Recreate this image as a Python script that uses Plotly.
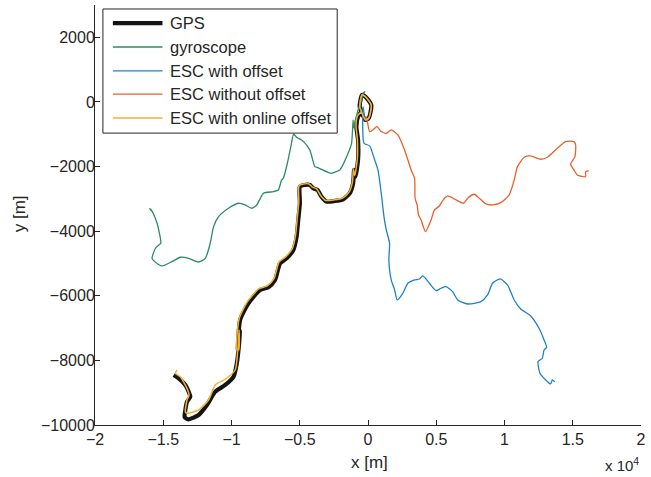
import plotly.graph_objects as go

# x values in units of 10^4 m, y values in m
gps_x = [-1.423, -1.387, -1.338, -1.314, -1.302, -1.326, -1.338, -1.343, -1.314, -1.241, -1.180, -1.119,
         -1.046, -0.985, -0.961, -0.944, -0.937, -0.954, -0.937, -0.876, -0.791, -0.730, -0.681, -0.644,
         -0.596, -0.547, -0.523, -0.511, -0.499, -0.499, -0.467, -0.426, -0.401, -0.370, -0.341, -0.304,
         -0.243, -0.182, -0.134, -0.109, -0.102, -0.092, -0.073, -0.073, -0.085, -0.073, -0.049, -0.061,
         -0.044, -0.020, 0.024, 0.005, -0.020, -0.049]
gps_y = [-8452, -8554, -8761, -8968, -9123, -9278, -9535, -9761, -9823, -9690, -9381, -8968,
         -8761, -8505, -8092, -7473, -7059, -7678, -6749, -6233, -5820, -5737, -5511, -4995,
         -4840, -4582, -4169, -3654, -3136, -2621, -2570, -2570, -2672, -2724, -2930, -3084,
         -3065, -3013, -2827, -2517, -2105, -2312, -1796, -1176, -764, -454, -299, -145,
         217, 165, -93, -506, -557, -299]

online_x = [-1.399, -1.411, -1.375, -1.326, -1.311, -1.326, -1.338, -1.326, -1.241, -1.168, -1.119,
            -1.046, -0.973, -0.954, -0.944, -0.947, -0.962, -0.944, -0.884, -0.799, -0.738, -0.689,
            -0.652, -0.604, -0.555, -0.531, -0.519, -0.507, -0.505, -0.473, -0.432, -0.407, -0.376,
            -0.347, -0.310, -0.247, -0.186, -0.139, -0.114, -0.107, -0.097, -0.078, -0.078, -0.088,
            -0.076, -0.049, -0.061, -0.044, -0.020, 0.024, 0.005, -0.020, -0.049]
online_y = [-8297, -8400, -8505, -8865, -9072, -9226, -9587, -9638, -9535, -9226, -8761,
            -8585, -8297, -7678, -7059, -7678, -7678, -6710, -6190, -5780, -5695, -5470,
            -4955, -4800, -4540, -4130, -3615, -3100, -2590, -2540, -2540, -2640, -2690,
            -2895, -3050, -3030, -2975, -2790, -2480, -2070, -2280, -1760, -1140, -730,
            -420, -299, -145, 217, 165, -93, -506, -557, -299]

gyro_x = [-1.601, -1.582, -1.590, -1.575, -1.545, -1.528, -1.518, -1.538, -1.557, -1.582, -1.562,
          -1.509, -1.436, -1.375, -1.314, -1.241, -1.192, -1.156, -1.131, -1.095, -1.022, -0.949,
          -0.900, -0.852, -0.815, -0.766, -0.693, -0.657, -0.633, -0.621, -0.591, -0.561, -0.545,
          -0.521, -0.487, -0.470, -0.426, -0.389, -0.364, -0.288, -0.268, -0.207, -0.197, -0.146,
          -0.121, -0.109, -0.106, -0.073, -0.045, -0.036, -0.020]
gyro_y = [-3291, -3395, -3330, -3440, -3756, -4066, -4375, -4449, -4530, -4840, -4943,
          -5077, -4943, -4808, -4840, -4954, -4840, -4375, -3860, -3551, -3291, -3136,
          -3189, -3291, -3189, -2827, -2777, -2724, -2415, -2369, -1906, -1288, -1000,
          -1100, -1176, -1236, -1486, -2003, -2039, -2190, -2209, -2105, -2050, -1588,
          -1300, -557, -800, -248, 52, 269, 320]

esc_off_x = [-0.049, -0.061, -0.044, -0.020, 0.024, 0.005, -0.020, -0.036, -0.029, 0.012, 0.049,
             0.073, 0.097, 0.117, 0.134, 0.158, 0.153, 0.170, 0.195, 0.214, 0.255, 0.292, 0.341,
             0.377, 0.401, 0.450, 0.499, 0.535, 0.572, 0.620, 0.657, 0.730, 0.827, 0.876, 0.912,
             0.969, 1.022, 1.071, 1.119, 1.192, 1.253, 1.290, 1.309, 1.290, 1.277, 1.246, 1.260,
             1.302, 1.338, 1.350, 1.368]
esc_off_y = [-299, -145, 217, 165, -93, -506, -557, -145, -1279, -1362, -1796,
             -2105, -2827, -3551, -3963, -4375, -4892, -5511, -5820, -6130, -5923, -5613, -5511,
             -5480, -5387, -5613, -5839, -5768, -5716, -5871, -6130, -6254, -6182, -5975, -5613,
             -5480, -5666, -6130, -6409, -6625, -7006, -7368, -7594, -7678, -7935, -8039, -8398,
             -8606, -8730, -8606, -8658]

esc_nooff_x = [-0.049, -0.061, -0.044, -0.020, 0.024, 0.005, -0.020, -0.012, 0.012, 0.036, 0.066,
               0.097, 0.134, 0.170, 0.219, 0.268, 0.316, 0.341, 0.345, 0.360, 0.370, 0.389, 0.421,
               0.462, 0.487, 0.523, 0.547, 0.584, 0.645, 0.701, 0.730, 0.779, 0.815, 0.864, 0.912,
               0.973, 1.034, 1.071, 1.095, 1.144, 1.192, 1.265, 1.314, 1.387, 1.448, 1.509, 1.521,
               1.516, 1.484, 1.509, 1.533, 1.594, 1.594, 1.618]
esc_nooff_y = [-299, -145, 217, 165, -93, -506, -557, -454, -918, -867, -764,
               -918, -970, -867, -1022, -1486, -2105, -2362, -2981, -3189, -3499, -3654, -4013,
               -3654, -3344, -3220, -3055, -2910, -3034, -3136, -2981, -2858, -2981, -3158, -3189,
               -3117, -2879, -2415, -2003, -1713, -1672, -1774, -1713, -1434, -1228, -1228, -1331,
               -1693, -1920, -2105, -2260, -2312, -2157, -2136]

names = ["GPS", "gyroscope", "ESC with offset", "ESC without offset", "ESC with online offset"]
colors = ["#141414", "#2a8c62", "#1f80cc", "#e8602c", "#f2b134"]
widths = [4.2, 1.3, 1.3, 1.3, 1.5]
xs = [gps_x, gyro_x, esc_off_x, esc_nooff_x, online_x]
ys = [gps_y, gyro_y, esc_off_y, esc_nooff_y, online_y]

x_ticks = [-2, -1.5, -1, -0.5, 0, 0.5, 1, 1.5, 2]
x_ticktext = ["\u22122", "\u22121.5", "\u22121", "\u22120.5", "0", "0.5", "1", "1.5", "2"]
y_ticks = [-10000, -8000, -6000, -4000, -2000, 0, 2000]
y_ticktext = ["\u221210000", "\u22128000", "\u22126000", "\u22124000", "\u22122000", "0", "2000"]

FONT = "Liberation Sans, Arial, sans-serif"
fig = go.Figure()
for x, y, n, c, w in zip(xs, ys, names, colors, widths):
    fig.add_trace(go.Scatter(x=x, y=y, mode="lines", name=n,
                             line=dict(color=c, width=w, shape="spline", smoothing=0.6),
                             showlegend=False))

fig.update_layout(
    width=651, height=477,
    margin=dict(l=95, r=6, t=5, b=52),
    paper_bgcolor="white", plot_bgcolor="white",
    font=dict(family=FONT, size=16, color="#262626"),
    xaxis=dict(range=[-2, 2], tickvals=x_ticks, ticktext=x_ticktext,
               ticks="inside", ticklen=5, tickcolor="#262626",
               showline=True, linecolor="#262626", linewidth=1,
               showgrid=False, zeroline=False, mirror=False,
               tickfont=dict(size=16)),
    yaxis=dict(range=[-10000, 3000], tickvals=y_ticks, ticktext=y_ticktext,
               ticks="inside", ticklen=5, tickcolor="#262626",
               showline=True, linecolor="#262626", linewidth=1,
               showgrid=False, zeroline=False, mirror=False,
               tickfont=dict(size=16), ticklabelstandoff=-4),
)

annotations = [
    dict(text="x [m]", xref="paper", yref="paper", x=0.502, y=-0.09, xanchor="center",
         yanchor="middle", showarrow=False, font=dict(size=17)),
    dict(text="y [m]", xref="paper", yref="paper", x=-0.139, y=0.502, textangle=-90,
         xanchor="center", yanchor="middle", showarrow=False, font=dict(size=17)),
    dict(text="x 10<sup>4</sup>", xref="paper", yref="paper", x=1.0, y=-0.095,
         xanchor="right", yanchor="middle", showarrow=False, font=dict(size=15)),
]

# legend box
shapes = [dict(type="rect", xref="paper", yref="paper", x0=0.0145, x1=0.4436,
               y0=0.695, y1=0.9905, line=dict(color="#262626", width=1),
               fillcolor="white", layer="above")]
leg_y = [0.957, 0.9, 0.843, 0.788, 0.731]
for n, c, w, yy in zip(names, colors, widths, leg_y):
    shapes.append(dict(type="line", xref="paper", yref="paper", x0=0.0327, x1=0.1236,
                       y0=yy, y1=yy, line=dict(color=c, width=w), layer="above"))
    annotations.append(dict(text=n, xref="paper", yref="paper", x=0.134, y=yy,
                            xanchor="left", yanchor="middle", showarrow=False,
                            font=dict(size=16.5, color="#262626")))

fig.update_layout(shapes=shapes, annotations=annotations)
fig.write_html("out.html")
